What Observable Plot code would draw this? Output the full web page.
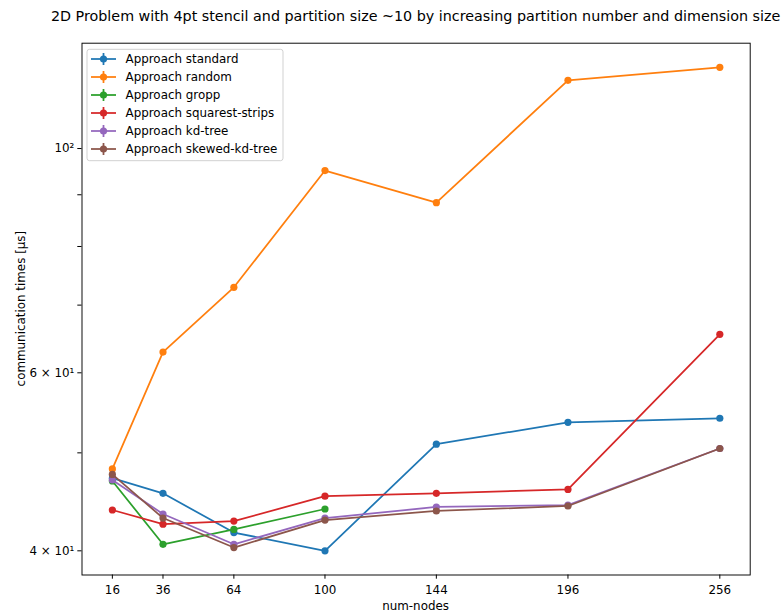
<!DOCTYPE html>
<html>
<head>
<meta charset="utf-8">
<script src="https://cdn.jsdelivr.net/npm/d3@7"></script>
<script src="https://cdn.jsdelivr.net/npm/@observablehq/plot@0.6"></script>
<style>
  html, body { margin: 0; padding: 0; background: #fff; }
  #wrap { position: relative; width: 784px; height: 613px; font-family: "DejaVu Sans", sans-serif; }
  #overlay { position: absolute; left: 0; top: 0; pointer-events: none; }
</style>
</head>
<body>
<div id="wrap"></div>
<script>
// Partition counts (x axis)
const nodes = [16, 36, 64, 100, 144, 196, 256];

// Communication times in microseconds, one array per approach
const standard       = [47.2, 45.6, 41.7, 40.0, 51.0, 53.6, 54.1];
const random         = [48.2, 62.9, 72.9, 95.1, 88.4, 116.8, 120.3];
const gropp          = [46.9, 40.6, 42.0, 44.0];
const squarestStrips = [43.9, 42.5, 42.8, 45.3, 45.6, 46.0, 65.5];
const kdTree         = [47.0, 43.5, 40.6, 43.1, 44.2, 44.4, 50.5];
const skewedKdTree   = [47.6, 43.1, 40.3, 42.9, 43.8, 44.3, 50.5];

const seriesNames  = ["standard", "random", "gropp", "squarest-strips", "kd-tree", "skewed-kd-tree"];
const seriesValues = [standard, random, gropp, squarestStrips, kdTree, skewedKdTree];
const colors = ["#1f77b4", "#ff7f0e", "#2ca02c", "#d62728", "#9467bd", "#8c564b"];

// y-axis ticks (log scale): labelled majors and unlabelled minors
const yTicks = [40, 50, 60, 70, 80, 90, 100];
const yTickLabels = {40: "4 × 10¹", 60: "6 × 10¹", 100: "10²"};

// Build one row per measurement
const series = seriesNames.map((name, i) => ({
  name,
  color: colors[i],
  rows: seriesValues[i].map((v, j) => ({nodes: nodes[j], time: v, approach: name}))
}));

// Axis limits with 5% padding (linear in x, logarithmic in y)
const allTimes = seriesValues.flat();
const lmin = Math.log10(d3.min(allTimes)), lmax = Math.log10(d3.max(allTimes));
const lpad = (lmax - lmin) * 0.05;
const yDomain = [10 ** (lmin - lpad), 10 ** (lmax + lpad)];
const xpad = (d3.max(nodes) - d3.min(nodes)) * 0.05;
const xDomain = [d3.min(nodes) - xpad, d3.max(nodes) + xpad];

const W = 784, H = 613;
const mL = 81.5, mR = 34.3, mT = 42.7, mB = 38.5;
const FS = "11.9px";

const marks = [];
for (const s of series) {
  marks.push(Plot.line(s.rows, {x: "nodes", y: "time", stroke: s.color, strokeWidth: 1.75}));
  marks.push(Plot.dot(s.rows, {x: "nodes", y: "time", fill: s.color, r: 3.6, stroke: "none"}));
}
marks.push(Plot.frame({stroke: "#000", strokeWidth: 0.95}));

const chart = Plot.plot({
  width: W,
  height: H,
  marginLeft: mL,
  marginRight: mR,
  marginTop: mT,
  marginBottom: mB,
  style: {fontFamily: "DejaVu Sans, sans-serif", fontSize: FS, color: "#000", background: "#fff", overflow: "visible"},
  x: {domain: xDomain, ticks: nodes, tickFormat: d => String(d), tickSize: 4.2, tickPadding: 6.5, label: null},
  y: {type: "log", domain: yDomain, ticks: yTicks, tickFormat: d => yTickLabels[d] || "", tickSize: 4.2, tickPadding: 3.4, label: null},
  marks
});

const wrap = document.getElementById("wrap");
wrap.appendChild(chart);

// Title, axis labels and legend drawn on an overlay
const ov = d3.select(wrap).append("svg")
  .attr("id", "overlay")
  .attr("width", W).attr("height", H)
  .style("font-family", "DejaVu Sans, sans-serif");

const cx = mL + (W - mL - mR) / 2;
const cy = mT + (H - mT - mB) / 2;

ov.append("text")
  .attr("x", cx).attr("y", 20.5)
  .attr("text-anchor", "middle")
  .attr("font-size", "14.3px")
  .attr("fill", "#000")
  .text("2D Problem with 4pt stencil and partition size ~10 by increasing partition number and dimension size");

ov.append("text")
  .attr("x", cx).attr("y", 609.5)
  .attr("text-anchor", "middle")
  .attr("font-size", FS)
  .attr("fill", "#000")
  .text("num-nodes");

ov.append("text")
  .attr("transform", `translate(24.5,${cy}) rotate(-90)`)
  .attr("text-anchor", "middle")
  .attr("font-size", FS)
  .attr("fill", "#000")
  .text("communication times [μs]");

// Legend
const lg = ov.append("g");
lg.append("rect")
  .attr("x", 87).attr("y", 49.3)
  .attr("width", 196).attr("height", 111.4)
  .attr("rx", 2.5)
  .attr("fill", "#fff").attr("fill-opacity", 0.8)
  .attr("stroke", "#cccccc").attr("stroke-width", 0.9);

series.forEach((s, i) => {
  const y = 59 + i * 18;
  lg.append("line").attr("x1", 91).attr("x2", 116).attr("y1", y).attr("y2", y)
    .attr("stroke", s.color).attr("stroke-width", 1.75);
  lg.append("line").attr("x1", 103.5).attr("x2", 103.5).attr("y1", y - 6).attr("y2", y + 6)
    .attr("stroke", s.color).attr("stroke-width", 1.75);
  lg.append("circle").attr("cx", 103.5).attr("cy", y).attr("r", 3.6).attr("fill", s.color);
  lg.append("text").attr("x", 125.5).attr("y", y + 4.3)
    .attr("font-size", FS).attr("fill", "#000")
    .text("Approach " + s.name);
});
</script>
</body>
</html>
